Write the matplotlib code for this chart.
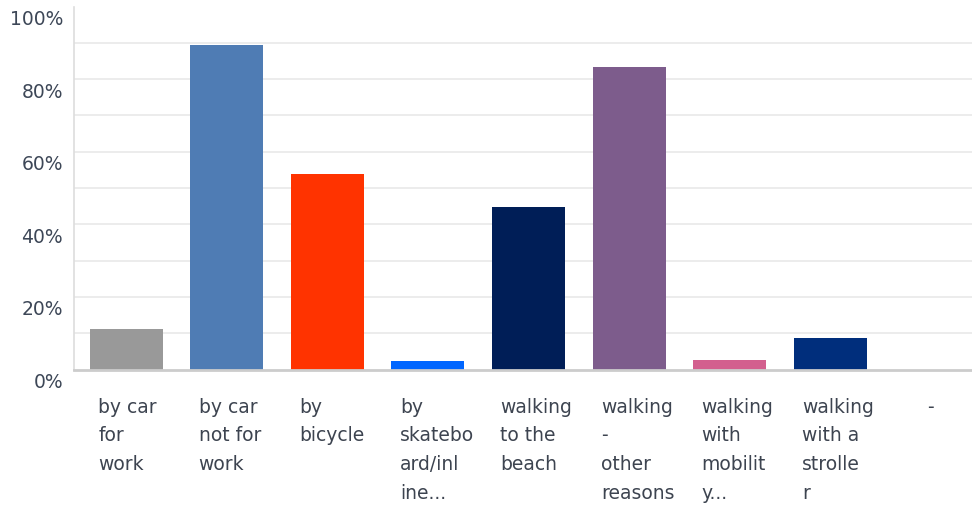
import matplotlib
matplotlib.use("Agg")
import matplotlib.pyplot as plt
import matplotlib.transforms as mtransforms

categories = [
    "by car\nfor\nwork",
    "by car\nnot for\nwork",
    "by\nbicycle",
    "by\nskatebo\nard/inl\nine...",
    "walking\nto the\nbeach",
    "walking\n-\nother\nreasons",
    "walking\nwith\nmobilit\ny...",
    "walking\nwith a\nstrolle\nr",
    "-",
]
values = [11.2, 89.4, 53.9, 2.3, 44.8, 83.3, 2.6, 8.7, 0.0]
colors = ["#999999", "#4f7cb4", "#ff3300", "#0066ff", "#001e57",
          "#7d5c8c", "#d35f8e", "#002e7c", "#999999"]
ytick_vals = [0, 20, 40, 60, 80, 100]
ytick_labels = ["0%", "20%", "40%", "60%", "80%", "100%"]
grid_vals = [10, 20, 30, 40, 50, 60, 70, 80, 90]

fig = plt.figure(figsize=(9.72, 5.10), dpi=100)
ax = fig.add_axes([74/972, 1 - 370.5/510, 1 - 74/972, (370.5 - 7.5)/510])

x = list(range(len(categories)))
ax.bar(x, values, width=0.726, color=colors, zorder=3)

for g in grid_vals:
    ax.axhline(g, color="#ebebeb", linewidth=1.3, zorder=1)

ax.set_xlim(-0.52, 8.41)
ax.set_ylim(0, 100)

for s in ["top", "right"]:
    ax.spines[s].set_visible(False)
ax.spines["left"].set_color("#dddddd")
ax.spines["left"].set_linewidth(1.2)
ax.spines["bottom"].set_color("#cccccc")
ax.spines["bottom"].set_linewidth(2.0)
ax.spines["bottom"].set_zorder(4)

ax.set_yticks(ytick_vals)
ax.set_yticklabels(ytick_labels, fontsize=13.5, color="#3d4757", family="DejaVu Sans")
ax.tick_params(axis="y", length=0, pad=8)
offset = mtransforms.ScaledTranslation(0, -10/100, fig.dpi_scale_trans)
for lab in ax.get_yticklabels():
    lab.set_transform(lab.get_transform() + offset)

ax.set_xticks([])
trans = mtransforms.blended_transform_factory(ax.transData, ax.transAxes)
for i, lab in enumerate(categories):
    if lab == "-":
        ax.text(i, -0.075, lab, transform=trans, ha="center", va="top",
                fontsize=13.5, color="#3d4450", family="DejaVu Sans",
                linespacing=1.65)
    else:
        ax.text(i - 0.28, -0.075, lab, transform=trans, ha="left", va="top",
                fontsize=13.5, color="#3d4450", family="DejaVu Sans",
                linespacing=1.65)

fig.savefig("out.png", dpi=100)
